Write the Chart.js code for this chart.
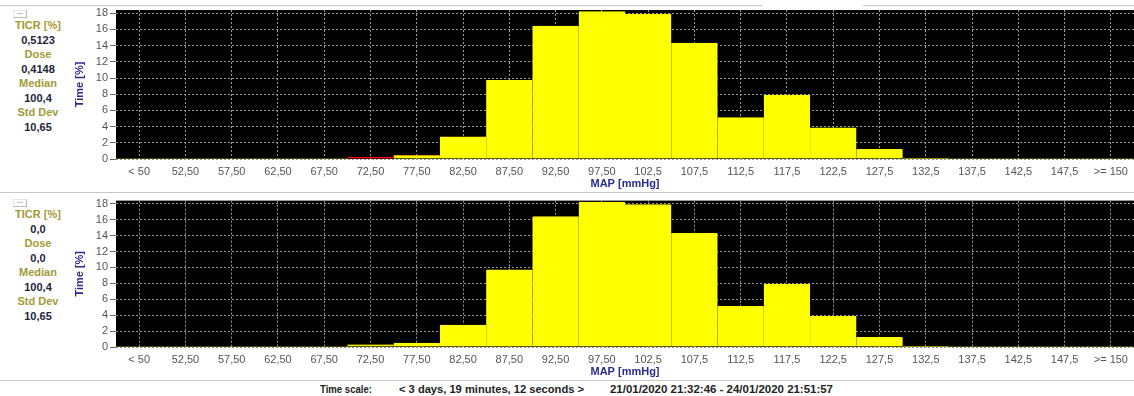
<!DOCTYPE html>
<html>
<head>
<meta charset="utf-8">
<script src="https://cdn.jsdelivr.net/npm/chart.js@4.4.1/dist/chart.umd.min.js"></script>
<style>
    body { margin: 0; background: #fff; font-family: "Liberation Sans", Arial, sans-serif; }
    #wrap { position: relative; width: 1134px; height: 396px; overflow: hidden; }
    canvas { position: absolute; left: 0; }
    .hline { position: absolute; height: 1px; background: #c8c8c8; }
    .stats { position: absolute; left: 0; width: 76px; text-align: center; font-weight: bold; font-size: 11px; }
    .stats div { position: absolute; left: 0; width: 76px; line-height: 12px; }
    .lbl { color: #a39a35; }
    .val { color: #24243a; }
    .btn { position: absolute; left: 13px; width: 12px; height: 6px; border: 1px solid #b8b8b8; border-top-color: #e6e6e6; border-left-color: #e6e6e6; font-size: 8px; line-height: 2px; text-align: center; color: #333; }
    #footer span { position: absolute; top: 383px; font-size: 11px; font-weight: bold; color: #222; white-space: nowrap; transform-origin: left center; }
</style>
</head>
<body>
<div id="wrap">
    <div class="hline" style="left:0; top:5px; width:762px;"></div>
    <div class="hline" style="left:863px; top:5px; width:271px;"></div>
    <div class="hline" style="left:0; top:192px; width:1134px;"></div>
    <div class="hline" style="left:0; top:380px; width:1134px;"></div>

    <div class="btn" style="top:10px;">...</div>
    <div class="btn" style="top:199px;">...</div>

    <div class="stats" id="stats1"></div>
    <div class="stats" id="stats2"></div>

    <canvas id="grafico1" width="1134" height="192" style="top:0;"></canvas>
    <canvas id="grafico2" width="1134" height="188" style="top:192px;"></canvas>

    <div id="footer">
        <span style="left:320px;" data-w="52">Time scale:</span>
        <span style="left:399px;" data-w="185">&lt; 3 days, 19 minutes, 12 seconds &gt;</span>
        <span style="left:610px;" data-w="223">21/01/2020 21:32:46 - 24/01/2020 21:51:57</span>
    </div>
</div>

<script>
// clases MAP [mmHg]
const categorias = ['< 50', '52,50', '57,50', '62,50', '67,50', '72,50', '77,50', '82,50', '87,50', '92,50',
    '97,50', '102,5', '107,5', '112,5', '117,5', '122,5', '127,5', '132,5', '137,5', '142,5', '147,5', '>= 150'];

// Time [%]
const tiempoSuperior = [0, 0, 0, 0, 0, 0.25, 0.45, 2.75, 9.7, 16.4, 18.2, 17.9, 14.3, 5.1, 7.9, 3.85, 1.2, 0.1, 0, 0, 0, 0];
const tiempoInferior = [0, 0, 0, 0, 0, 0.3, 0.5, 2.75, 9.7, 16.4, 18.2, 17.9, 14.3, 5.1, 7.9, 3.85, 1.2, 0.1, 0, 0, 0, 0];

const ticksY = [0, 2, 4, 6, 8, 10, 12, 14, 16, 18];

const statsNombres = ['TICR [%]', 'Dose', 'Median', 'Std Dev'];
const statsSuperior = ['0,5123', '0,4148', '100,4', '10,65'];
const statsInferior = ['0,0', '0,0', '100,4', '10,65'];

function pintarStats(id, top, valores) {
    const cont = document.getElementById(id);
    const paso = 14.5;
    statsNombres.forEach((nombre, i) => {
        const a = document.createElement('div');
        a.className = 'lbl';
        a.style.top = (top + i * 2 * paso) + 'px';
        a.textContent = nombre;
        const b = document.createElement('div');
        b.className = 'val';
        b.style.top = (top + (i * 2 + 1) * paso) + 'px';
        b.textContent = valores[i];
        cont.appendChild(a);
        cont.appendChild(b);
    });
}
pintarStats('stats1', 19, statsSuperior);
pintarStats('stats2', 208, statsInferior);

// ajustar el ancho del pie al de la captura
document.querySelectorAll('#footer span').forEach(s => {
    const w = s.getBoundingClientRect().width;
    s.style.transform = 'scaleX(' + (Number(s.dataset.w) / w) + ')';
});

const fondoNegro = {
    id: 'fondoNegro',
    beforeDraw(chart) {
        const a = chart.chartArea;
        const ctx = chart.ctx;
        ctx.save();
        ctx.fillStyle = '#000';
        ctx.fillRect(a.left, a.top, a.right - a.left, a.bottom - a.top);
        ctx.restore();
    }
};

// titulo del eje Y en su sitio fijo
const tituloY = {
    id: 'tituloY',
    afterDraw(chart) {
        const a = chart.chartArea;
        const ctx = chart.ctx;
        ctx.save();
        ctx.translate(80, (a.top + a.bottom) / 2);
        ctx.rotate(-Math.PI / 2);
        ctx.fillStyle = '#2b2b8f';
        ctx.font = 'bold 11px "Liberation Sans"';
        ctx.textAlign = 'center';
        ctx.textBaseline = 'middle';
        ctx.fillText('Time [%]', 0, 0);
        ctx.restore();
    }
};

function colores(valores, rojos) {
    return valores.map((v, i) => rojos.includes(i) ? '#ff0000' : '#ffff00');
}

function bordes(valores, rojos, naranja) {
    return valores.map((v, i) => {
        if (rojos.includes(i)) return '#ff0000';
        if (i === naranja) return '#e8a000';
        if (v > 0 && v < 0.5) return '#a8a800';
        return '#ffff00';
    });
}

function crearGrafico(canvasId, datos, rojos, naranja, padTop) {
    const ctx = document.getElementById(canvasId).getContext('2d');
    return new Chart(ctx, {
        type: 'bar',
        data: {
            labels: categorias,
            datasets: [{
                label: 'Time [%]',
                data: datos,
                backgroundColor: colores(datos, rojos),
                borderColor: bordes(datos, rojos, naranja),
                borderWidth: { top: 1, left: 0, right: 0, bottom: 0 },
                borderSkipped: 'bottom',
                categoryPercentage: 1,
                barPercentage: 1
            }]
        },
        options: {
            responsive: false,
            animation: false,
            layout: { padding: { left: 70, top: padTop, right: 0, bottom: 0 } },
            plugins: {
                legend: { display: false },
                tooltip: { enabled: false }
            },
            scales: {
                x: {
                    afterFit: s => { s.height = 33; },
                    grid: { offset: false, color: '#9a9a9a', drawTicks: false },
                    border: { display: false, dash: [2, 2] },
                    ticks: {
                        autoSkip: false, maxRotation: 0, padding: 6,
                        color: '#555', font: { family: 'Liberation Sans', size: 11 }
                    },
                    title: {
                        display: true, text: 'MAP [mmHg]', color: '#2b2b8f',
                        font: { family: 'Liberation Sans', size: 11, weight: 'bold' },
                        padding: { top: 0, bottom: 1 }
                    }
                },
                y: {
                    min: 0,
                    max: 18.4,
                    afterFit: s => { s.width = 46; },
                    afterBuildTicks: s => { s.ticks = ticksY.map(v => ({ value: v })); },
                    grid: { color: '#9a9a9a', tickColor: '#666', tickLength: 6 },
                    border: { display: false, dash: [2, 2] },
                    ticks: {
                        stepSize: 2, includeBounds: false, padding: 2,
                        color: '#555', font: { family: 'Liberation Sans', size: 11 }
                    }
                }
            }
        },
        plugins: [fondoNegro, tituloY]
    });
}

crearGrafico('grafico1', tiempoSuperior, [5], 6, 10);
crearGrafico('grafico2', tiempoInferior, [], -1, 5);
</script>
</body>
</html>
